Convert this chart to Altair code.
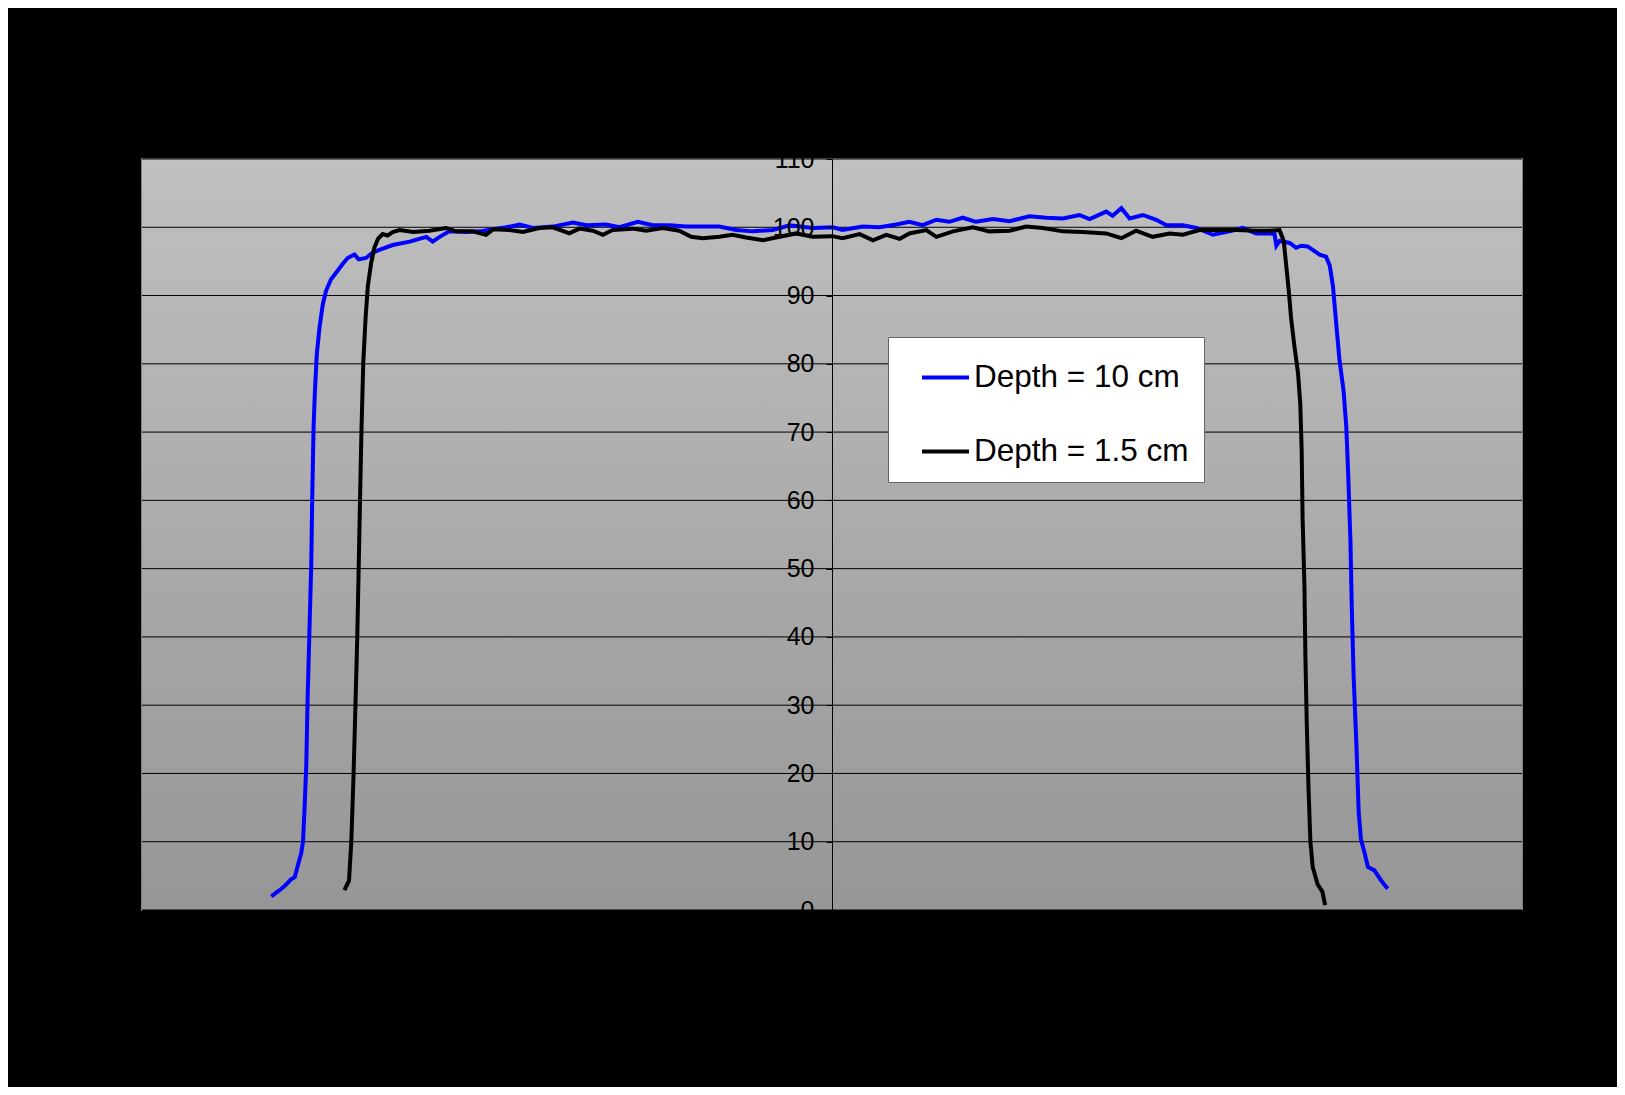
import altair as alt
import pandas as pd

# ---- data (x in cm, y in %) ----
series_names = ["Depth = 10 cm", "Depth = 1.5 cm"]
series_colors = ["#0000ff", "#000000"]

x_blue = [-12.19, -12.01, -11.90, -11.76, -11.68, -11.61, -11.54, -11.50, -11.47, -11.43,
          -11.40, -11.36, -11.32, -11.30, -11.27, -11.24, -11.20, -11.14, -11.07, -11.00,
          -10.89, -10.74, -10.63, -10.53, -10.38, -10.29, -10.13, -9.98, -9.84, -9.55,
          -9.18, -8.82, -8.68, -8.53, -8.32, -7.95, -7.66, -7.37, -7.08, -6.79,
          -6.50, -6.07, -5.63, -5.34, -4.91, -4.62, -4.22, -3.90, -3.53, -3.17,
          -2.81, -2.45, -2.08, -1.72, -1.29, -0.92, -0.42, 0.02, 0.23, 0.67,
          1.03, 1.40, 1.68, 1.97, 2.27, 2.55, 2.84, 3.13, 3.50, 3.86,
          4.29, 4.66, 5.02, 5.38, 5.60, 5.96, 6.10, 6.29, 6.47, 6.76,
          7.05, 7.27, 7.63, 7.92, 8.28, 8.64, 8.93, 9.22, 9.51, 9.62,
          9.66, 9.73, 9.95, 10.09, 10.20, 10.34, 10.45, 10.60, 10.74, 10.82,
          10.89, 10.96, 11.03, 11.12, 11.18, 11.22, 11.27, 11.30, 11.34, 11.40,
          11.45, 11.50, 11.58, 11.65, 11.79, 11.94, 12.08]
y_blue = [2.0, 2.9, 3.5, 4.5, 4.8, 6.6, 8.3, 10.0, 14.3, 20.9,
          30.9, 40.9, 50.8, 60.1, 70.8, 76.1, 81.4, 85.4, 88.7, 90.7,
          92.4, 93.7, 94.7, 95.5, 96.0, 95.3, 95.5, 96.3, 96.7, 97.4,
          97.9, 98.6, 97.9, 98.6, 99.4, 99.3, 99.4, 99.7, 100.0, 100.4,
          99.9, 100.1, 100.7, 100.3, 100.4, 100.0, 100.8, 100.3, 100.3, 100.1,
          100.1, 100.1, 99.6, 99.4, 99.6, 100.3, 99.9, 100.0, 99.6, 100.1,
          100.0, 100.4, 100.8, 100.3, 101.1, 100.8, 101.4, 100.8, 101.2, 100.9,
          101.6, 101.4, 101.3, 101.8, 101.2, 102.3, 101.7, 102.8, 101.3, 101.8,
          101.1, 100.3, 100.3, 99.9, 98.9, 99.4, 99.9, 99.1, 99.1, 99.0,
          97.3, 98.0, 97.7, 97.0, 97.3, 97.2, 96.7, 96.0, 95.7, 94.4,
          91.4, 86.0, 80.7, 76.1, 70.8, 64.1, 54.2, 44.2, 34.2, 24.2,
          14.3, 10.3, 8.3, 6.3, 5.8, 4.3, 3.1]

x_black = [-10.60, -10.50, -10.45, -10.40, -10.36, -10.32, -10.29, -10.26, -10.23, -10.19,
           -10.14, -10.09, -10.02, -9.95, -9.87, -9.77, -9.66, -9.55, -9.40, -9.11,
           -8.75, -8.39, -8.17, -7.81, -7.52, -7.37, -7.01, -6.72, -6.36, -6.07,
           -5.71, -5.49, -5.20, -4.98, -4.77, -4.33, -4.04, -3.68, -3.32, -3.06,
           -2.81, -2.45, -2.16, -1.87, -1.50, -1.14, -0.78, -0.42, 0.00, 0.23,
           0.60, 0.89, 1.18, 1.47, 1.68, 2.05, 2.27, 2.63, 3.06, 3.42,
           3.86, 4.22, 4.58, 5.02, 5.45, 5.96, 6.29, 6.61, 6.97, 7.34,
           7.63, 7.99, 8.42, 8.79, 9.22, 9.51, 9.73, 9.82, 9.87, 9.93,
           9.98, 10.05, 10.13, 10.18, 10.21, 10.23, 10.27, 10.29, 10.32, 10.36,
           10.40, 10.45, 10.56, 10.66, 10.72]
y_black = [2.9, 4.3, 10.0, 20.0, 30.0, 40.0, 50.0, 60.1, 70.0, 80.1,
           86.7, 91.4, 94.7, 97.0, 98.3, 99.0, 98.8, 99.3, 99.6, 99.3,
           99.5, 99.9, 99.4, 99.4, 98.9, 99.7, 99.6, 99.3, 99.9, 100.0,
           99.1, 99.8, 99.5, 98.9, 99.6, 99.8, 99.5, 99.9, 99.5, 98.6,
           98.4, 98.6, 98.9, 98.5, 98.1, 98.6, 99.1, 98.6, 98.7, 98.4,
           99.0, 98.1, 98.9, 98.3, 99.1, 99.6, 98.6, 99.4, 100.0, 99.4,
           99.5, 100.1, 99.9, 99.4, 99.3, 99.1, 98.4, 99.5, 98.6, 99.1,
           98.9, 99.6, 99.6, 99.6, 99.5, 99.5, 99.6, 98.0, 94.7, 90.7,
           86.7, 82.7, 78.7, 74.1, 67.4, 57.5, 47.5, 37.5, 27.6, 17.6,
           10.0, 6.3, 3.7, 2.7, 0.7]

x_ticks = [-15, -10, -5, 0, 5, 10, 15]
y_ticks = [0, 10, 20, 30, 40, 50, 60, 70, 80, 90, 100, 110]

# ---- tables ----
df = pd.concat([
    pd.DataFrame({"x": x_blue, "y": y_blue, "series": series_names[0]}),
    pd.DataFrame({"x": x_black, "y": y_black, "series": series_names[1]}),
], ignore_index=True)
df["order"] = range(len(df))
grid_df = pd.DataFrame({"v": y_ticks})
bg_df = pd.DataFrame({"a": [0]})

FONT = "Liberation Sans"
xscale = alt.Scale(domain=[-15, 15], nice=False, zero=False)
yscale = alt.Scale(domain=[0, 110], nice=False)

xaxis = alt.Axis(values=x_ticks, title=None, grid=False, domainColor="black", domainWidth=1,
                 tickColor="black", tickSize=4, labelColor="black", labelFontSize=25,
                 labelFont=FONT, labelFlush=False)
yaxis = alt.Axis(values=y_ticks, title=None, grid=False, offset=-690, domainColor="black",
                 domainWidth=1, tickColor="black", tickSize=6, labelColor="black",
                 labelFontSize=25, labelFont=FONT, labelPadding=12, zindex=1)

bg = alt.Chart(bg_df).mark_rect(
    color=alt.LinearGradient(
        gradient="linear",
        stops=[alt.GradientStop(offset=0, color="#c0c0c0"),
               alt.GradientStop(offset=1, color="#969696")],
        x1=0, x2=0, y1=0, y2=1,
    )
).encode(
    x=alt.X(datum=-15, scale=xscale, axis=xaxis),
    x2=alt.X2(datum=15),
    y=alt.Y(datum=0, scale=yscale, axis=yaxis),
    y2=alt.Y2(datum=110),
)

grid = alt.Chart(grid_df).mark_rule(color="black", strokeWidth=1).encode(
    y=alt.Y("v:Q", scale=yscale, axis=yaxis)
)

lines = alt.Chart(df).mark_line(strokeWidth=4).encode(
    x=alt.X("x:Q", scale=xscale, axis=xaxis),
    y=alt.Y("y:Q", scale=yscale, axis=yaxis),
    color=alt.Color("series:N",
                    scale=alt.Scale(domain=series_names, range=series_colors),
                    legend=alt.Legend(orient="none", legendX=746, legendY=178, title=None,
                                      fillColor="white", strokeColor="#666666",
                                      padding=15, symbolType="stroke", symbolSize=2209,
                                      symbolStrokeWidth=4, symbolOffset=17,
                                      labelFontSize=31.5, labelFont=FONT, labelColor="black",
                                      labelOffset=3, rowPadding=33, labelLimit=400)),
    order="order:Q",
)

chart = alt.layer(bg, grid, lines).properties(
    width=1380, height=751,
    autosize=alt.AutoSizeParams(type="none"),
    padding={"left": 134, "top": 151, "right": 95, "bottom": 177},
    background="black",
).configure_view(stroke="#808080", strokeWidth=2)

chart.save("out.html", embed_options={"renderer": "svg", "actions": False})
